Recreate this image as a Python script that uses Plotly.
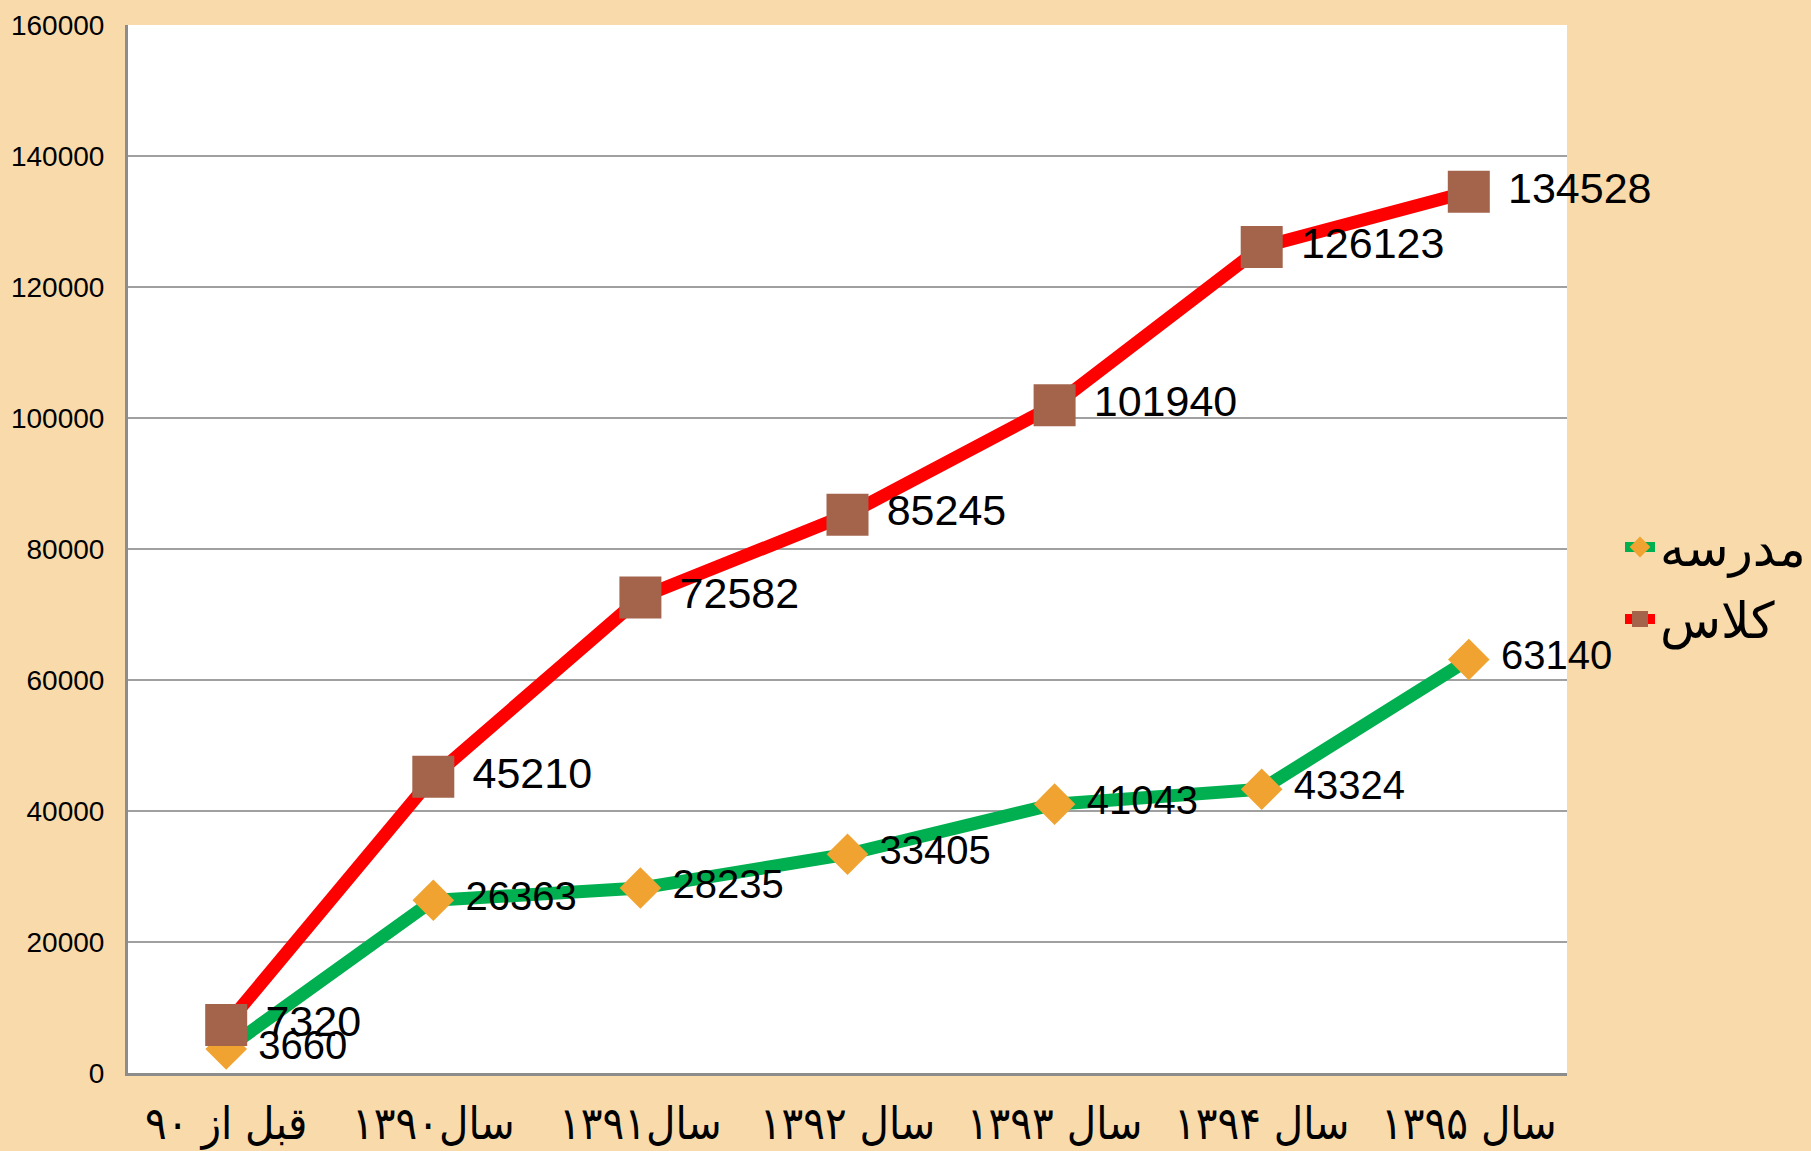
import plotly.graph_objects as go

categories = ["قبل از ۹۰", "سال۱۳۹۰", "سال۱۳۹۱", "سال ۱۳۹۲", "سال ۱۳۹۳", "سال ۱۳۹۴", "سال ۱۳۹۵"]
school_values = [3660, 26363, 28235, 33405, 41043, 43324, 63140]
class_values = [7320, 45210, 72582, 85245, 101940, 126123, 134528]
school_name = "مدرسه"
class_name = "کلاس"
y_ticks = [0, 20000, 40000, 60000, 80000, 100000, 120000, 140000, 160000]

fig = go.Figure()
fig.add_trace(go.Scatter(
    x=categories, y=school_values, name=school_name, legendgroup="a",
    mode="lines+markers+text", cliponaxis=False,
    line=dict(color="#00B050", width=13),
    marker=dict(symbol="diamond", size=32, color="#F0A330"),
    text=[" " + str(v) for v in school_values],
    textposition="middle right",
    textfont=dict(family="Liberation Sans", size=40, color="#000000"),
))
fig.add_trace(go.Scatter(
    x=categories, y=class_values, name=class_name, legendgroup="b",
    mode="lines+markers+text", cliponaxis=False,
    line=dict(color="#FF0000", width=13),
    marker=dict(symbol="square", size=42, color="#A4644C"),
    text=[" " + str(v) for v in class_values],
    textposition="middle right",
    textfont=dict(family="Liberation Sans", size=43, color="#000000"),
))

fig.update_layout(
    width=1811, height=1151,
    paper_bgcolor="#F8DAAB",
    plot_bgcolor="#FFFFFF",
    margin=dict(l=128, r=244, t=25, b=78, autoexpand=False),
    showlegend=True,
    legend=dict(
        xref="container", yref="container",
        x=1.0, y=0.4935, xanchor="right", yanchor="middle",
        font=dict(family="DejaVu Sans", size=50, color="#000000"),
        bgcolor="rgba(0,0,0,0)", traceorder="grouped", tracegroupgap=4,
    ),
    xaxis=dict(
        type="category",
        automargin=False,
        showgrid=False,
        showline=True, linecolor="#8C8C8C", linewidth=3,
        ticks="",
        tickfont=dict(family="DejaVu Sans Condensed", size=45, color="#000000"),
        ticklabelstandoff=9,
    ),
    yaxis=dict(
        range=[0, 160000],
        automargin=False,
        tickvals=y_ticks,
        ticktext=[str(v) for v in y_ticks],
        showgrid=True, gridcolor="#A0A0A0", gridwidth=2,
        showline=True, linecolor="#8C8C8C", linewidth=3,
        zeroline=False,
        ticks="",
        tickfont=dict(family="Liberation Sans", size=28, color="#000000"),
        ticklabelstandoff=15,
    ),
)

fig.write_html(
    "out.html",
    config={"displayModeBar": False},
    post_script="document.body.style.margin='0';document.body.style.overflow='hidden';",
)
